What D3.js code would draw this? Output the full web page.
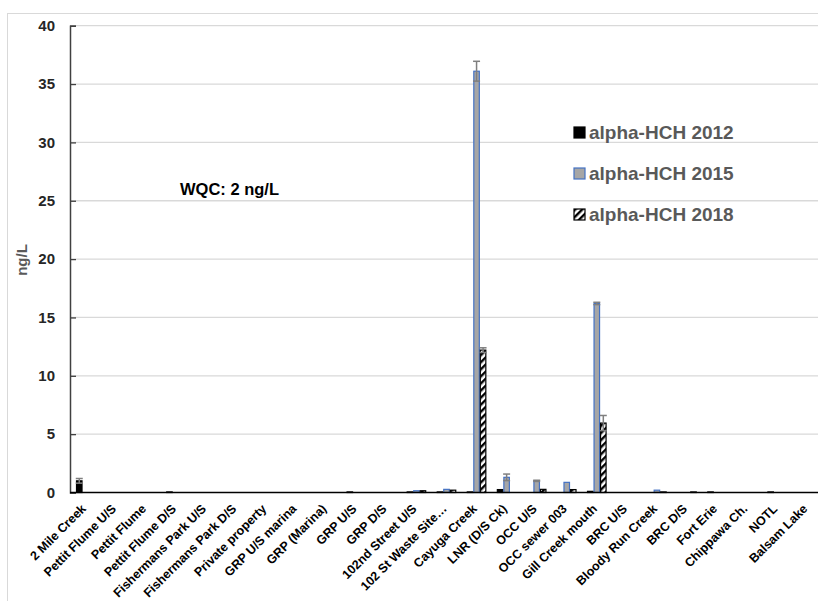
<!DOCTYPE html>
<html>
<head>
<meta charset="utf-8">
<script src="https://cdn.jsdelivr.net/npm/d3@7"></script>
<style>
  body { margin: 0; background: #fff; }
  text { font-family: "Liberation Sans", Arial, sans-serif; }
</style>
</head>
<body>
<div id="chart"></div>
<script>
// Sampling sites along the x axis
const sites = ["2 Mile Creek", "Pettit Flume U/S", "Pettit Flume", "Pettit Flume D/S",
  "Fishermans Park U/S", "Fishermans Park D/S", "Private property", "GRP U/S marina",
  "GRP (Marina)", "GRP U/S", "GRP D/S", "102nd Street U/S", "102 St Waste Site\u2026",
  "Cayuga Creek", "LNR (D/S Ck)", "OCC U/S", "OCC sewer 003", "Gill Creek mouth",
  "BRC U/S", "Bloody Run Creek", "BRC D/S", "Fort Erie", "Chippawa Ch.", "NOTL", "Balsam Lake"];

// alpha-HCH concentrations (ng/L)
const hch2012 = [1.0, 0, 0, 0.05, 0, 0, 0, 0, 0, 0.05, 0, 0.05, 0.05, 0.05, 0.25, 0, 0, 0.1, 0, 0, 0, 0.05, 0, 0.05, 0];
const hch2015 = [0, 0, 0, 0, 0, 0, 0, 0, 0, 0, 0, 0.15, 0.27, 36.1, 1.3, 1.0, 0.87, 16.2, 0, 0.2, 0, 0, 0, 0, 0];
const hch2018 = [0, 0, 0, 0, 0, 0, 0, 0, 0, 0, 0, 0.15, 0.2, 12.2, 0, 0.27, 0.25, 5.95, 0, 0.05, 0.05, 0, 0, 0, 0];

// error bar half-lengths
const err2012 = [0.2, 0, 0, 0, 0, 0, 0, 0, 0, 0, 0, 0, 0, 0, 0, 0, 0, 0, 0, 0, 0, 0, 0, 0, 0];
const err2015 = [0, 0, 0, 0, 0, 0, 0, 0, 0, 0, 0, 0, 0, 0.85, 0.28, 0.05, 0, 0.1, 0, 0, 0, 0, 0, 0, 0];
const err2018 = [0, 0, 0, 0, 0, 0, 0, 0, 0, 0, 0, 0, 0, 0.2, 0, 0, 0, 0.65, 0, 0, 0, 0, 0, 0, 0];

const seriesNames = ["alpha-HCH 2012", "alpha-HCH 2015", "alpha-HCH 2018"];
const yTicks = [0, 5, 10, 15, 20, 25, 30, 35, 40];

const series = [
  { name: seriesNames[0], values: hch2012, errs: err2012 },
  { name: seriesNames[1], values: hch2015, errs: err2015 },
  { name: seriesNames[2], values: hch2018, errs: err2018 }
];

const W = 818, H = 601;
const plotLeft = 70, plotRight = 823, plotTop = 25.7, plotBottom = 492.5;

const svg = d3.select("#chart").append("svg")
  .attr("width", W)
  .attr("height", H);

// hatch for the 2018 bars
const defs = svg.append("defs");
defs.append("pattern")
  .attr("id", "hatch")
  .attr("patternUnits", "userSpaceOnUse")
  .attr("width", 5)
  .attr("height", 5)
  .attr("patternTransform", "rotate(45)")
  .call(p => {
    p.append("rect").attr("width", 5).attr("height", 5).attr("fill", "#fff");
    p.append("rect").attr("width", 2.4).attr("height", 5).attr("fill", "#000");
  });

// chart area border
svg.append("rect")
  .attr("x", 7.5).attr("y", 13.5)
  .attr("width", 840).attr("height", 620)
  .attr("fill", "none")
  .attr("stroke", "#d9d9d9");

const x0 = d3.scaleBand()
  .domain(sites)
  .range([plotLeft, plotRight])
  .paddingInner(0.35)
  .paddingOuter(0.2);

const x1 = d3.scaleBand()
  .domain(seriesNames)
  .range([0, x0.bandwidth()]);

const y = d3.scaleLinear()
  .domain([0, 40])
  .range([plotBottom, plotTop]);

// gridlines
svg.append("g")
  .selectAll("line")
  .data(yTicks.slice(1))
  .join("line")
    .attr("x1", plotLeft).attr("x2", W)
    .attr("y1", d => y(d)).attr("y2", d => y(d))
    .attr("stroke", "#d9d9d9")
    .attr("stroke-width", 1.3);

// y axis
const yAxis = svg.append("g")
  .attr("transform", "translate(" + plotLeft + ",0)")
  .call(d3.axisLeft(y).tickValues(yTicks).tickSize(-6).tickPadding(15));
yAxis.select(".domain").attr("stroke", "#404040").attr("stroke-width", 1.5);
yAxis.selectAll(".tick line").attr("stroke", "#404040").attr("stroke-width", 1.3);
yAxis.selectAll(".tick text")
  .attr("font-size", 15)
  .attr("font-weight", "bold")
  .attr("fill", "#262626")
  .attr("font-family", "Liberation Sans, Arial, sans-serif");

// bars
const colors = {
  fill: ["#000000", "#a6a6a6", "url(#hatch)"],
  stroke: ["#000000", "#4472c4", "#000000"]
};

series.forEach((s, i) => {
  svg.append("g")
    .selectAll("rect")
    .data(s.values.map((v, j) => ({ site: sites[j], v: v })).filter(d => d.v > 0))
    .join("rect")
      .attr("x", d => x0(d.site) + x1(s.name) + 0.5)
      .attr("y", d => y(d.v))
      .attr("width", x1.bandwidth() - 1)
      .attr("height", d => y(0) - y(d.v))
      .attr("fill", colors.fill[i])
      .attr("stroke", colors.stroke[i])
      .attr("stroke-width", 1.2);
});

// error bars
series.forEach(s => {
  const eb = s.values.map((v, j) => ({ site: sites[j], v: v, e: s.errs[j] })).filter(d => d.e > 0);
  const g = svg.append("g").attr("stroke", "#7f7f7f").attr("stroke-width", 1.5);
  const cx = d => x0(d.site) + x1(s.name) + x1.bandwidth() / 2;
  g.selectAll(".stem").data(eb).join("line")
    .attr("x1", cx).attr("x2", cx)
    .attr("y1", d => y(d.v - d.e)).attr("y2", d => y(d.v + d.e));
  g.selectAll(".capTop").data(eb).join("line")
    .attr("x1", d => cx(d) - 3.5).attr("x2", d => cx(d) + 3.5)
    .attr("y1", d => y(d.v + d.e)).attr("y2", d => y(d.v + d.e));
  g.selectAll(".capBot").data(eb).join("line")
    .attr("x1", d => cx(d) - 3.5).attr("x2", d => cx(d) + 3.5)
    .attr("y1", d => y(d.v - d.e)).attr("y2", d => y(d.v - d.e));
});

// x axis
svg.append("line")
  .attr("x1", plotLeft).attr("x2", W)
  .attr("y1", y(0)).attr("y2", y(0))
  .attr("stroke", "#000")
  .attr("stroke-width", 1.5);

svg.append("g")
  .selectAll("text")
  .data(sites)
  .join("text")
    .attr("transform", d => "translate(" + (x0(d) + x0.bandwidth() / 2 + 1) + "," + (y(0) + 17) + ") rotate(-45)")
    .attr("text-anchor", "end")
    .attr("font-size", 12.5)
    .attr("font-weight", "bold")
    .attr("fill", "#000")
    .text(d => d);

// y axis title
svg.append("text")
  .attr("transform", "translate(27,260) rotate(-90)")
  .attr("text-anchor", "middle")
  .attr("font-size", 15)
  .attr("font-weight", "bold")
  .attr("fill", "#595959")
  .text("ng/L");

// criterion note
svg.append("text")
  .attr("x", 180).attr("y", 195)
  .attr("font-size", 16.5)
  .attr("font-weight", "bold")
  .attr("fill", "#000")
  .text("WQC: 2 ng/L");

// legend
const legend = svg.append("g")
  .selectAll("g")
  .data(series)
  .join("g")
    .attr("transform", (d, i) => "translate(574," + [127, 168, 209][i] + ")");
legend.append("rect")
  .attr("width", 11).attr("height", 11)
  .attr("fill", (d, i) => colors.fill[i])
  .attr("stroke", (d, i) => colors.stroke[i])
  .attr("stroke-width", 1.2);
legend.append("text")
  .attr("x", 15).attr("y", 11.5)
  .attr("font-size", 19)
  .attr("font-weight", "bold")
  .attr("fill", "#595959")
  .text(d => d.name);
</script>
</body>
</html>
